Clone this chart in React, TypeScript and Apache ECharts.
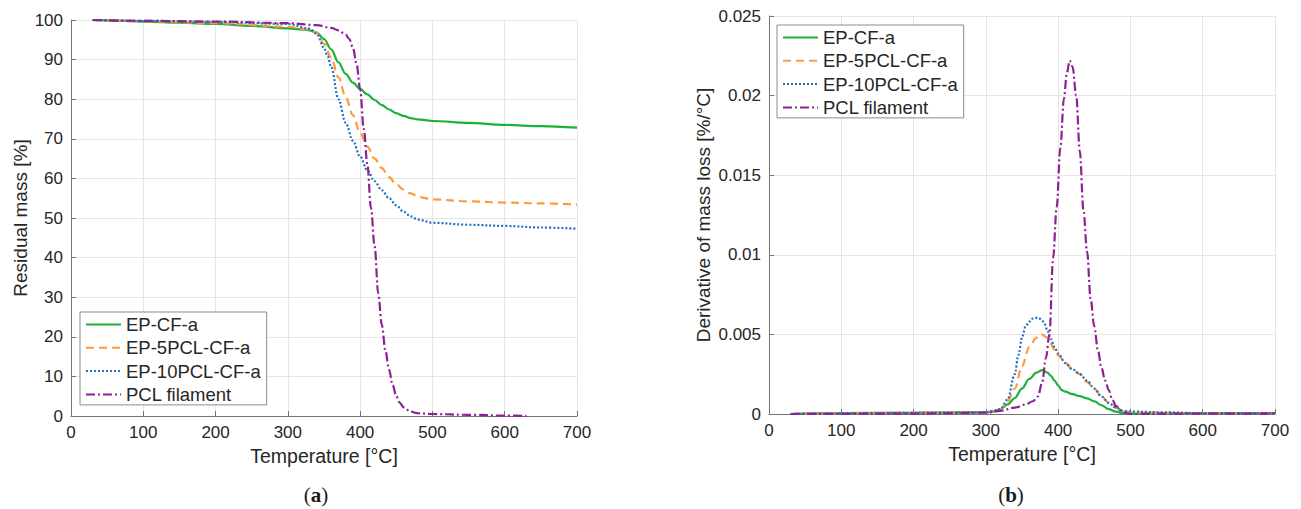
import React, { useEffect, useRef } from "react";
import * as echarts from "echarts";

const seriesNames = ["EP-CF-a", "EP-5PCL-CF-a", "EP-10PCL-CF-a", "PCL filament"];
const xTicks = [0, 700, 100];

// (a) Residual mass [%] vs temperature [°C]
const tgaEpCf = [[30,100],[50,99.9],[100,99.6],[150,99.3],[200,99.0],[250,98.5],[300,97.9],[320,97.6],[330,97.4],[340,96.8],[350,95.2],[360,92.6],[370,89.3],[380,86.4],[390,84.2],[400,82.6],[410,81.2],[420,79.8],[430,78.5],[440,77.4],[450,76.5],[460,75.8],[470,75.2],[480,74.9],[500,74.5],[550,74.0],[600,73.5],[650,73.2],[700,72.8]];
const tgaEp5 = [[30,100],[100,99.7],[200,99.2],[300,98.3],[330,97.6],[340,96.8],[350,94],[360,90.5],[370,85.5],[380,80.5],[390,76],[400,71.5],[410,68],[420,65],[430,62.6],[440,60.3],[450,58.5],[460,57.2],[470,56.2],[480,55.5],[490,55],[500,54.7],[550,54.2],[600,53.9],[650,53.7],[700,53.4]];
const tgaEp10 = [[30,100],[100,99.8],[200,99.5],[300,99.0],[330,97.8],[340,96.5],[350,93],[355,90.8],[360,88.2],[370,80],[380,74],[390,69.5],[400,65.5],[410,62],[420,59.3],[430,57],[440,55],[450,53.2],[460,51.6],[470,50.4],[480,49.6],[500,48.8],[550,48.3],[600,48.0],[650,47.6],[700,47.3]];
const tgaPcl = [[30,100],[100,99.8],[200,99.6],[300,99.2],[340,98.7],[360,98.0],[370,97.4],[380,96.3],[385,95.2],[390,93],[395,89],[400,82.5],[405,72.5],[410,63.5],[415,52.5],[420,43],[425,31],[430,23],[435,16.5],[440,11.7],[445,7.8],[450,5],[455,3.3],[460,2.2],[470,1.1],[480,0.7],[500,0.5],[550,0.3],[600,0.1],[630,0]];

// (b) Derivative of mass loss [%/°C] vs temperature [°C]
const dtgEpCf = [[30,0],[100,0.00005],[200,0.00008],[280,0.0001],[300,0.00012],[310,0.00015],[320,0.0003],[330,0.0006],[340,0.001],[350,0.0016],[360,0.0022],[370,0.0026],[378,0.00275],[385,0.0026],[390,0.0024],[395,0.0021],[400,0.0018],[405,0.0015],[410,0.0014],[420,0.00125],[430,0.00112],[440,0.00098],[450,0.0008],[460,0.00055],[470,0.0003],[480,0.00015],[490,0.00005],[500,0.00002],[550,0.00005],[600,0.00005],[700,0.00005]];
const dtgEp5 = [[30,0],[300,0.0001],[310,0.00015],[320,0.0003],[330,0.0008],[340,0.0016],[350,0.003],[360,0.0042],[370,0.0048],[377,0.005],[385,0.0048],[390,0.0044],[395,0.004],[400,0.0037],[410,0.0032],[420,0.0028],[430,0.0025],[440,0.002],[450,0.0016],[460,0.0011],[470,0.0007],[480,0.0004],[490,0.0002],[500,0.0001],[600,0.00005],[700,0.00005]];
const dtgEp10 = [[30,0],[300,0.0001],[310,0.0002],[320,0.0003],[330,0.0009],[340,0.0025],[345,0.0037],[350,0.0048],[355,0.0055],[360,0.0058],[365,0.006],[372,0.00605],[380,0.0058],[385,0.0053],[390,0.0047],[395,0.0042],[400,0.0038],[410,0.0032],[420,0.0028],[430,0.0025],[440,0.0021],[450,0.0016],[460,0.0011],[470,0.0007],[480,0.0004],[490,0.0002],[500,0.00015],[550,0.0001],[600,0.00005],[700,0.00005]];
const dtgPcl = [[30,0],[200,0.00002],[300,0.00008],[320,0.0002],[340,0.0004],[355,0.0006],[365,0.0008],[372,0.0011],[378,0.002],[383,0.0035],[388,0.005],[393,0.0098],[398,0.013],[403,0.0167],[408,0.0198],[412,0.0214],[416,0.0222],[420,0.0218],[425,0.02],[430,0.0165],[435,0.0128],[440,0.0102],[445,0.0072],[450,0.0055],[455,0.004],[460,0.0029],[465,0.0021],[470,0.0015],[475,0.0009],[480,0.0005],[490,0.0001],[500,0],[600,0.00002],[700,0.00002]];

const SANS = "'Liberation Sans', Arial, sans-serif";
const SERIF = "'Liberation Serif', 'DejaVu Serif', serif";
const TXT = "#262626";
const AXIS = "#737373";
const GRID = "#e6e6e6";

const styles = [
  { color: "#1fb03c", type: "solid" as any, width: 2.2 },
  { color: "#ff9a3c", type: [8, 5] as any, width: 2.2 },
  { color: "#1f6fc2", type: [2, 2] as any, width: 2.2 },
  { color: "#8a2294", type: [9, 3, 2, 3] as any, width: 2.2 },
];

function xAxis(gridIndex: number) {
  return {
    type: "value",
    gridIndex,
    min: xTicks[0],
    max: xTicks[1],
    interval: xTicks[2],
    name: "Temperature [°C]",
    nameLocation: "middle",
    nameGap: 22,
    nameTextStyle: { fontFamily: SANS, fontSize: 19.5, color: TXT },
    axisLine: { show: true, onZero: false, lineStyle: { color: AXIS, width: 1 } },
    axisTick: { show: true, inside: true, length: 5, lineStyle: { color: AXIS } },
    axisLabel: { fontFamily: SANS, fontSize: 17, color: TXT, margin: 8 },
    splitLine: { show: true, lineStyle: { color: GRID, width: 1 } },
  };
}

function yAxis(gridIndex: number, max: number, interval: number, name: string, nameGap: number, fmt?: (v: number) => string) {
  return {
    type: "value",
    gridIndex,
    min: 0,
    max,
    interval,
    name,
    nameLocation: "middle",
    nameGap,
    nameTextStyle: { fontFamily: SANS, fontSize: 19, color: TXT },
    axisLine: { show: true, lineStyle: { color: AXIS, width: 1 } },
    axisTick: { show: true, inside: true, length: 5, lineStyle: { color: AXIS } },
    axisLabel: { fontFamily: SANS, fontSize: 17, color: TXT, margin: 8, formatter: fmt },
    splitLine: { show: true, lineStyle: { color: GRID, width: 1 } },
  };
}

function legend(left: number, top: number) {
  return {
    orient: "vertical",
    left,
    top,
    data: seriesNames,
    selectedMode: false,
    itemWidth: 35,
    itemHeight: 14,
    itemGap: 4.3,
    padding: [3, 6, 1, 5],
    borderColor: "#8c8c8c",
    borderWidth: 1,
    borderRadius: 0,
    backgroundColor: "#ffffff",
    itemStyle: { opacity: 0 },
    textStyle: { fontFamily: SANS, fontSize: 18.5, color: TXT, lineHeight: 18 },
  };
}

function mkSeries(data: number[][], i: number, axis: number) {
  const s = styles[i];
  return {
    type: "line",
    name: seriesNames[i],
    xAxisIndex: axis,
    yAxisIndex: axis,
    data,
    symbol: "none",
    smooth: 0.35,
    smoothMonotone: "x",
    lineStyle: { color: s.color, width: s.width, type: s.type },
    itemStyle: { color: s.color },
  };
}

export default function App() {
  const ref = useRef<HTMLDivElement>(null);
  useEffect(() => {
    const chart = echarts.init(ref.current!, null, { renderer: "svg" });
    const caption = (x: number, letter: string) => ({
      type: "text",
      x,
      y: 495,
      style: {
        text: `{p|(}{b|${letter}}{p|)}`,
        align: "center",
        verticalAlign: "middle",
        rich: {
          p: { fontFamily: SERIF, fontSize: 21, fill: "#1a1a1a" },
          b: { fontFamily: SERIF, fontSize: 21, fontWeight: "bold", fill: "#1a1a1a" },
        },
      },
    });
    chart.setOption({
      animation: false,
      backgroundColor: "#ffffff",
      grid: [
        { left: 71, top: 20, width: 506, height: 396, containLabel: false },
        { left: 769, top: 16, width: 506, height: 398, containLabel: false },
      ],
      xAxis: [xAxis(0), xAxis(1)],
      yAxis: [
        yAxis(0, 100, 10, "Residual mass [%]", 41),
        yAxis(1, 0.025, 0.005, "Derivative of mass loss [%/°C]", 56, (v: number) => String(+v.toFixed(3))),
      ],
      legend: [legend(80, 312), legend(777, 25)],
      series: [
        mkSeries(tgaEpCf, 0, 0),
        mkSeries(tgaEp5, 1, 0),
        mkSeries(tgaEp10, 2, 0),
        mkSeries(tgaPcl, 3, 0),
        mkSeries(dtgEpCf, 0, 1),
        mkSeries(dtgEp5, 1, 1),
        mkSeries(dtgEp10, 2, 1),
        mkSeries(dtgPcl, 3, 1),
      ],
      graphic: [caption(316, "a"), caption(1011, "b")],
    });
    return () => chart.dispose();
  }, []);
  return (
    <div
      ref={ref}
      style={{ position: "fixed", left: 0, top: 0, width: 1301, height: 509, background: "#ffffff" }}
    />
  );
}
